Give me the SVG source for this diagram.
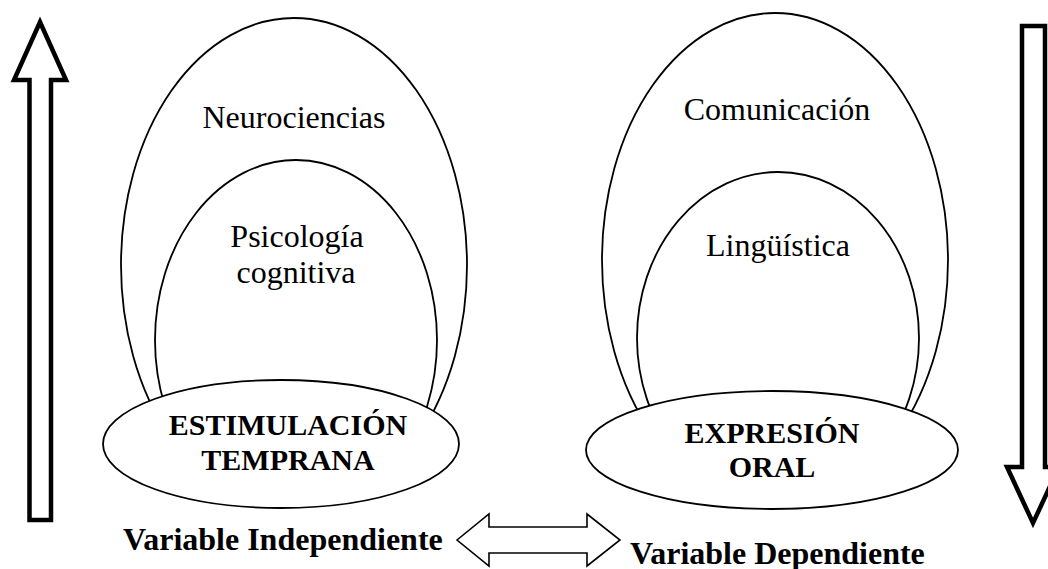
<svg xmlns="http://www.w3.org/2000/svg" width="1048" height="569" viewBox="0 0 1048 569">
<style>
.ell{fill:none;stroke:#000;stroke-width:1.8}
.base{fill:#fff;stroke:#000;stroke-width:1.8}
text{font-family:'Liberation Serif',serif;fill:#000}
.reg{font-size:32px;text-anchor:middle}
.bold{font-size:30px;font-weight:bold;text-anchor:middle}
.lbl{font-size:32px;font-weight:bold}
.bigarrow{fill:#fff;stroke:#000;stroke-width:4.5;stroke-linejoin:miter}
.dbl{fill:#fff;stroke:#000;stroke-width:1.6}
</style>
<defs>
  <clipPath id="upper"><rect x="0" y="0" width="1048" height="440"/></clipPath>
</defs>
<rect width="1048" height="569" fill="#fff"/>
<g id="left-cluster">
  <g id="neurociencias">
    <ellipse class="ell" cx="294" cy="265" rx="173" ry="247" clip-path="url(#upper)"/>
    <text class="reg" x="294" y="128">Neurociencias</text>
  </g>
  <g id="psicologia">
    <ellipse class="ell" cx="296" cy="340" rx="141" ry="180" clip-path="url(#upper)"/>
    <text class="reg" x="297" y="247">Psicología</text>
    <text class="reg" x="296" y="283">cognitiva</text>
  </g>
  <g id="estimulacion">
    <ellipse class="base" cx="281" cy="444" rx="178" ry="64"/>
    <text class="bold" x="288" y="435">ESTIMULACIÓN</text>
    <text class="bold" x="288" y="470">TEMPRANA</text>
  </g>
</g>
<g id="right-cluster">
  <g id="comunicacion">
    <ellipse class="ell" cx="775" cy="260" rx="173" ry="247" clip-path="url(#upper)"/>
    <text class="reg" x="777" y="120">Comunicación</text>
  </g>
  <g id="linguistica">
    <ellipse class="ell" cx="778" cy="338" rx="141" ry="166" clip-path="url(#upper)"/>
    <text class="reg" x="778" y="256">Lingüística</text>
  </g>
  <g id="expresion">
    <ellipse class="base" cx="772" cy="450" rx="186" ry="59"/>
    <text class="bold" x="772" y="443">EXPRESIÓN</text>
    <text class="bold" x="772" y="477">ORAL</text>
  </g>
</g>
<g id="connectors">
  <polygon class="bigarrow" points="40,22 66,80 51,80 51,520 29.5,520 29.5,80 14,80"/>
  <polygon class="bigarrow" points="1022,26 1045,26 1045,467 1059,467 1033,523 1007,467 1022,467"/>
  <polygon class="dbl" points="457,540 489,514 489,527 587,527 587,514 620,540 587,566 587,553 489,553 489,566"/>
</g>
<g id="labels">
  <text class="lbl" x="123" y="550">Variable Independiente</text>
  <text class="lbl" x="630" y="564">Variable Dependiente</text>
</g>
</svg>
